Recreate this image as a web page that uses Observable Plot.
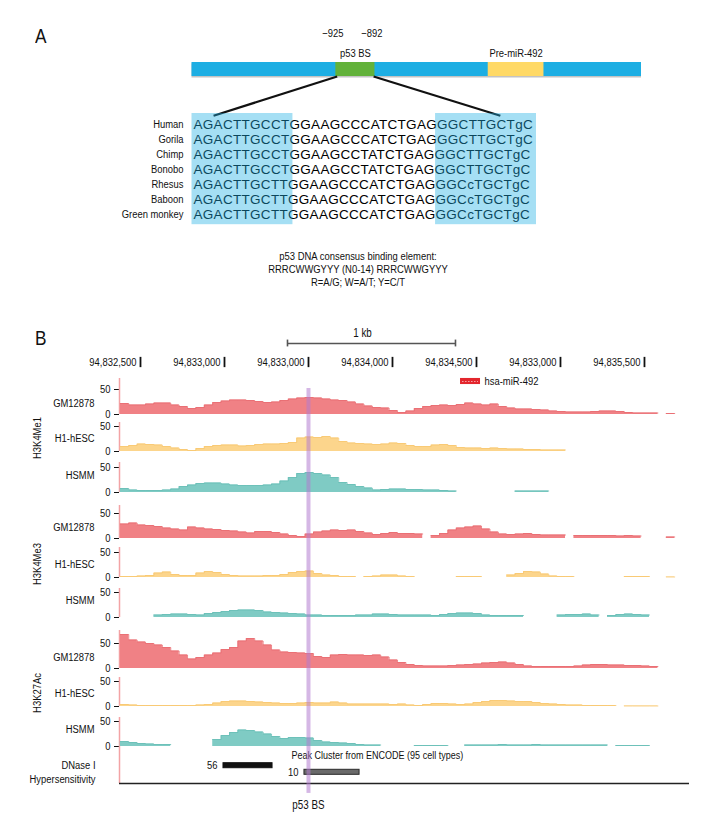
<!DOCTYPE html>
<html><head><meta charset="utf-8">
<script src="https://cdn.jsdelivr.net/npm/d3@7"></script>
<script src="https://cdn.jsdelivr.net/npm/@observablehq/plot@0.6"></script>
<style>
body{margin:0;background:#fff;}
#fig{position:relative;width:720px;height:840px;overflow:hidden;background:#fff;
 font-family:"Liberation Sans",Arial,sans-serif;color:#111;}
.lbl{position:absolute;white-space:nowrap;line-height:1;transform:scaleX(0.82);}
</style></head><body><div id="fig"></div>
<script>
// ---------------- DATA ----------------
// Panel A: promoter schematic (schematic units 0-100)
const geneParts = ["promoter", "p53 BS", "Pre-miR-492"];
const partStart = [0, 32.0, 65.9];
const partEnd = [100, 40.7, 78.3];
const bsCoordLabels = ["\u2212925", "\u2212892"];
// Panel A: alignment
const species = ["Human", "Gorila", "Chimp", "Bonobo", "Rhesus", "Baboon", "Green monkey"];
const sequences = [
  "AGACTTGCCTGGAAGCCCATCTGAGGGCTTGCTgC",
  "AGACTTGCCTGGAAGCCCATCTGAGGGCTTGCTgC",
  "AGACTTGCCTGGAAGCCTATCTGAGGGCTTGCTgC",
  "AGACTTGCCTGGAAGCCTATCTGAGGGCTTGCTgC",
  "AGACTTGCTTGGAAGCCCATCTGAGGGCcTGCTgC",
  "AGACTTGCTTGGAAGCCCATCTGAGGGCcTGCTgC",
  "AGACTTGCTTGGAAGCCCATCTGAGGGCcTGCTgC"
];
const halfSiteFrom = [0, 25];
const halfSiteTo = [10, 35];
const consensusLines = ["p53 DNA consensus binding element:", "RRRCWWGYYY (N0-14) RRRCWWGYYY", "R=A/G; W=A/T; Y=C/T"];

// Panel B: genome browser
const coordPositions = [94832500, 94833000, 94833500, 94834000, 94834500, 94835000, 94835500];
const coordLabels = ["94,832,500", "94,833,000", "94,833,000", "94,834,000", "94,834,500", "94,833,000", "94,835,500"];
const scaleBar = {start: 94833375, end: 94834375, label: "1 kb"};
const mirna = {name: "hsa-miR-492", start: 94834405, end: 94834524};
const p53Site = 94833500;
const binStart = 94832380, binSize = 50;

const h3k4me1_GM12878 = [22,19,19,21,23,23,19,16,12,14,19,24,27,29,29,28,26,24,25,28,31,33,34,33,31,29,28,25,21,17,14,13,8,4,7,12,16,18,19,18,20,23,21,19,21,16,13,11,11,10,9,7,6,5,5,5,6,7,7,6,4,3,3,3,null,2];
const h3k4me1_H1 = [10,12,15,14,13,10,7,4,2,6,10,12,13,13,11,12,14,15,15,16,18,27,29,28,30,27,20,17,16,15,14,15,17,16,12,10,10,13,14,12,8,7,7,6,7,6,5,5,4,4,3,3,3,null,null,null,null,null,null,null,null,null,null,null,null,null];
const h3k4me1_HSMM = [8,5,4,4,4,5,7,12,15,18,19,19,17,15,14,14,14,15,17,23,30,38,40,38,35,30,20,16,12,9,5,6,7,7,6,6,5,5,4,3,null,null,null,null,null,null,null,3,3,3,3,null,null,null,null,null,null,null,null,null,null,null,null,null,null,null];
const h3k4me3_GM12878 = [29,31,27,26,24,21,19,17,23,21,19,18,16,15,13,11,14,14,12,9,6,4,9,13,15,17,16,17,14,11,8,10,12,10,10,9,null,6,10,17,21,23,25,19,13,9,8,9,10,8,7,7,7,null,6,6,6,6,6,5,6,5,null,null,null,3];
const h3k4me3_H1 = [2,2,3,4,9,11,6,4,4,9,12,10,6,4,3,3,3,4,4,6,10,12,13,8,5,4,2,2,null,2,3,5,5,3,2,null,null,null,null,null,2,2,2,null,null,null,5,8,12,11,7,3,2,2,null,null,null,null,null,null,2,2,2,null,null,1];
const h3k4me3_HSMM = [null,null,null,null,5,6,7,7,6,5,8,10,12,14,15,15,14,11,10,9,8,7,5,5,4,4,4,4,5,5,7,7,6,5,5,5,5,4,6,8,9,9,8,5,4,4,4,4,null,null,null,null,5,6,6,7,5,null,4,6,7,6,5,null,null,null];
const h3k27ac_GM12878 = [68,57,53,50,47,42,35,27,19,22,27,31,38,42,55,60,55,47,37,33,32,31,30,24,22,27,28,27,27,26,27,23,17,12,8,6,5,5,5,6,7,8,9,11,12,13,11,8,5,4,4,4,4,4,5,7,8,8,7,7,6,6,5,4,null,null];
const h3k27ac_H1 = [4,3,2,2,2,2,2,2,2,3,4,7,10,11,11,10,9,8,7,6,6,7,8,7,7,9,7,5,5,5,5,5,4,5,3,2,4,6,6,5,4,5,8,10,12,12,11,10,10,8,6,5,4,3,3,2,2,2,2,null,1,1,1,1,null,null];
const h3k27ac_HSMM = [10,8,6,5,4,4,null,null,null,null,null,14,22,28,33,32,29,25,20,16,18,18,17,12,9,8,7,6,4,3,3,null,null,null,null,2,2,2,2,null,null,3,3,3,3,4,3,3,3,4,3,3,3,3,3,3,3,3,null,2,2,2,2,null,null,null];

const trackGroups = ["H3K4Me1","H3K4Me1","H3K4Me1","H3K4Me3","H3K4Me3","H3K4Me3","H3K27Ac","H3K27Ac","H3K27Ac"];
const trackCells = ["GM12878","H1-hESC","HSMM","GM12878","H1-hESC","HSMM","GM12878","H1-hESC","HSMM"];
const trackValues = [h3k4me1_GM12878, h3k4me1_H1, h3k4me1_HSMM, h3k4me3_GM12878, h3k4me3_H1, h3k4me3_HSMM, h3k27ac_GM12878, h3k27ac_H1, h3k27ac_HSMM];

const dnaseScores = [56, 10];
const dnaseStart = [94832994, 94833476];
const dnaseEnd = [94833286, 94833804];
const dnaseLane = [0, 1];

// ---------------- STYLE / LAYOUT ----------------
const FONT = '"Liberation Sans",Arial,sans-serif';
const NARROW = 0.82;
const partColors = ["#1DAEE3", "#62B23A", "#FFD966"];
const cellFill = {"GM12878": "#F08185", "H1-hESC": "#FCD58C", "HSMM": "#7FCBC4"};
const cellStroke = {"GM12878": "#E96C71", "H1-hESC": "#F7C670", "HSMM": "#68BEB6"};
const nameY = {"GM12878": 23, "H1-hESC": 27, "HSMM": 35};
const trackBaselines = [414, 451, 492, 538, 577, 617, 668, 706, 746];
const firstTrackTop = 378;
const axisTops = [72, 58, 60, 66, 60, 58, 76, 58, 58];
const PX_PER_UNIT = 0.5;
const xDomain = [94832375, 94835768];
const baseStyle = {background: "transparent", overflow: "visible", fontFamily: FONT, fontSize: "11px", color: "#111"};

const fig = document.getElementById("fig");
// condensed look: squeeze every label horizontally around its own anchor
function narrow(svg) {
  svg.querySelectorAll("text").forEach(t => {
    if (/^[ACGTacgt]{20,}$/.test(t.textContent)) { t.style.letterSpacing = "0.3px"; return; }
    const xa = t.getAttribute("x");
    let x = 0;
    if (xa != null && xa !== "" && !isNaN(+xa)) { x = +xa; t.removeAttribute("x"); }
    const tr = t.getAttribute("transform") || "";
    t.setAttribute("transform", `${tr} translate(${x},0) scale(${NARROW},1)`);
  });
}
function place(el, top) {
  narrow(el);
  el.style.position = "absolute"; el.style.left = "0px"; el.style.top = top + "px";
  fig.appendChild(el);
}
function label(text, left, top, size, extra) {
  const d = document.createElement("div");
  d.className = "lbl"; d.textContent = text;
  d.style.left = left + "px"; d.style.top = top + "px"; d.style.fontSize = size + "px";
  if (extra) Object.assign(d.style, extra);
  fig.appendChild(d);
}

// ---------------- PANEL A ----------------
label("A", 35, 25, 21, {transformOrigin: "left center"});
const parts = geneParts.map((name, i) => ({name, start: partStart[i], end: partEnd[i], color: partColors[i]}));
const bsCoords = [{pos: partStart[1], label: bsCoordLabels[0]}, {pos: partEnd[1], label: bsCoordLabels[1]}];
const alignTopY = -2.8;
const zoomLinks = [
  {x1: partStart[1] + 0.3, y1: 0, x2: 4.8, y2: alignTopY},
  {x1: partEnd[1] - 0.3, y1: 0, x2: 68.6, y2: alignTopY}
];
place(Plot.plot({
  width: 720, height: 120, marginLeft: 191.5, marginRight: 79, marginTop: 62, marginBottom: 44,
  x: {domain: [0, 100], axis: null},
  y: {domain: [0, 1], axis: null},
  color: {type: "identity"},
  style: baseStyle,
  marks: [
    Plot.rect([parts[0]], {x1: "start", x2: "end", y1: () => 0, y2: () => 1, fill: "#7a7a7a", fillOpacity: 0.45, dy: 1.5}),
    Plot.rect(parts, {x1: "start", x2: "end", y1: () => 0, y2: () => 1, fill: "color"}),
    Plot.link(zoomLinks, {x1: "x1", y1: "y1", x2: "x2", y2: "y2", stroke: "#111", strokeWidth: 2.2}),
    Plot.text(parts.slice(1), {x: d => (d.start + d.end) / 2, y: () => 1, text: "name", dy: -9, fontSize: 11.5}),
    Plot.text(bsCoords, {x: "pos", y: () => 1, text: "label", dy: -29, dx: -3, fontSize: 11.5})
  ]
}), 0);

const alignRows = species.map((s, i) => ({species: s, seq: sequences[i]}));
const halfSites = halfSiteFrom.map((f, i) => ({from: f, to: halfSiteTo[i]}));
place(Plot.plot({
  width: 720, height: 130, marginLeft: 193, marginRight: 186, marginTop: 22, marginBottom: 13.8,
  x: {domain: [0, 35], axis: null},
  y: {type: "point", domain: species, padding: 0, axis: null},
  style: baseStyle,
  marks: [
    Plot.text(alignRows, {x: () => 0, y: "species", text: "seq", textAnchor: "start", fontFamily: FONT, fontSize: 13.5, fill: "#000"}),
    Plot.text(alignRows, {x: () => 0, y: "species", text: "species", textAnchor: "end", dx: -10, fontSize: 11.5}),
    Plot.rect(halfSites, {x1: "from", x2: "to", fill: "#1DAEE3", fillOpacity: 0.4, insetTop: -9, insetBottom: -8, insetLeft: -1.5, insetRight: -2})
  ]
}), 100);

consensusLines.forEach((t, i) => label(t, 0, 251 + i * 13, 11.5, {width: "716px", textAlign: "center", transformOrigin: "358px center"}));

// ---------------- PANEL B ----------------
label("B", 35, 327, 21, {transformOrigin: "left center"});

place(Plot.plot({
  width: 720, height: 80, marginLeft: 119, marginRight: 31, marginTop: 23, marginBottom: 19,
  x: {domain: xDomain, axis: null},
  y: {domain: [0, 2], reverse: true, axis: null},
  style: baseStyle,
  marks: [
    Plot.ruleY([scaleBar], {x1: "start", x2: "end", y: () => 0, stroke: "#555", strokeWidth: 1.6}),
    Plot.ruleX([scaleBar.start, scaleBar.end], {x: d => d, y1: () => -0.18, y2: () => 0.18, stroke: "#555", strokeWidth: 1.6}),
    Plot.text([scaleBar], {x: d => (d.start + d.end) / 2, y: () => 0, text: "label", dy: -10, dx: -9, fontSize: 12}),
    Plot.ruleX(coordPositions, {x: d => d, y1: () => 0.73, y2: () => 1.27, stroke: "#111", strokeWidth: 1.8}),
    Plot.text(coordPositions, {x: d => d, y: () => 1, text: (d, i) => coordLabels[i], textAnchor: "end", dx: -4, fontSize: 11.5}),
    Plot.rect([mirna], {x1: "start", x2: "end", y1: () => 1.84, y2: () => 2.16, fill: "#E3262D"}),
    Plot.ruleY([mirna], {x1: d => d.start + 12, x2: d => d.end - 12, y: () => 2, stroke: "#F5A3A6", strokeWidth: 1, strokeDasharray: "1.5,1.5"}),
    Plot.text([mirna], {x: "end", y: () => 2, text: "name", textAnchor: "start", dx: 4, fontSize: 11.5})
  ]
}), 320);

function stepPoints(values) {
  const pts = [];
  values.forEach((v, i) => {
    const x0 = binStart + i * binSize;
    if (v == null) { pts.push({x: x0, y: null}); return; }
    pts.push({x: x0, y: v}, {x: x0 + binSize, y: v});
  });
  return pts;
}

trackValues.forEach((values, i) => {
  const top = i === 0 ? firstTrackTop : trackBaselines[i - 1];
  const h = trackBaselines[i] - top;
  const ymax = h / PX_PER_UNIT;
  const cell = trackCells[i];
  const pts = stepPoints(values);
  const marks = [
    Plot.ruleX([xDomain[0]], {x: d => d, y1: () => 0, y2: () => axisTops[i], stroke: "#F3A3A5", strokeWidth: 1.5}),
    Plot.area(pts, {x1: "x", y1: () => 0, y2: "y", fill: cellFill[cell]}),
    Plot.line(pts, {x: "x", y: "y", stroke: cellStroke[cell], strokeWidth: 0.8}),
    Plot.ruleX([p53Site], {x: d => d, y1: () => 0, y2: () => (i === 0 ? 52 : ymax), stroke: "#B27CD0", strokeOpacity: 0.55, strokeWidth: 4}),
    Plot.text([cell], {frameAnchor: "left", y: () => nameY[cell], text: d => d, dx: -25, textAnchor: "end", fontSize: 11.5})
  ];
  if (cell === "H1-hESC") {
    marks.push(Plot.text([trackGroups[i]], {frameAnchor: "left", y: () => 27, text: d => d, dx: -82, rotate: -90, textAnchor: "middle", fontSize: 11.5}));
  }
  place(Plot.plot({
    width: 720, height: h, marginLeft: 119, marginRight: 31, marginTop: 0, marginBottom: 0,
    x: {domain: xDomain, axis: null},
    y: {domain: [0, ymax], ticks: [0, 50], tickSize: 5, tickPadding: 4, label: null},
    style: {...baseStyle, fontSize: "11.5px"},
    marks
  }), top);
});

// DNase track
const dnase = dnaseScores.map((s, i) => ({score: s, start: dnaseStart[i], end: dnaseEnd[i], lane: dnaseLane[i]}));
const axisLane = 2.7;
place(Plot.plot({
  width: 720, height: 70, marginLeft: 119, marginRight: 31, marginTop: 0, marginBottom: 0,
  x: {domain: xDomain, axis: null},
  y: {domain: [0, 1], range: [19.2, 25.8], axis: null},
  style: baseStyle,
  marks: [
    Plot.ruleX([xDomain[0]], {x: d => d, y1: () => -2.91, y2: () => axisLane, stroke: "#F3A3A5", strokeWidth: 1.5}),
    Plot.ruleY([axisLane], {y: d => d, stroke: "#222", strokeWidth: 1.5}),
    Plot.rect(dnase, {x1: "start", x2: "end", y1: d => d.lane - 0.38, y2: d => d.lane + 0.38,
      fill: d => d.score > 30 ? "#111" : "#6a6a6a", stroke: d => d.score > 30 ? "#111" : "#2a2a2a", strokeWidth: 1}),
    Plot.text(dnase, {x: "start", y: "lane", text: "score", textAnchor: "end", dx: -6, fontSize: 11.5}),
    Plot.text([dnase[1]], {x: "start", y: () => -1.55, text: () => "Peak Cluster from ENCODE (95 cell types)", textAnchor: "start", dx: -13, fontSize: 11}),
    Plot.text(["DNase I", "Hypersensitivity"], {frameAnchor: "left", y: (d, i) => i * 2, text: d => d, textAnchor: "end", dx: -24, fontSize: 11.5}),
    Plot.ruleX([p53Site], {x: d => d, y1: () => -2.91, y2: () => 4.2, stroke: "#B27CD0", strokeOpacity: 0.55, strokeWidth: 4}),
    Plot.text([p53Site], {x: d => d, y: () => 6, text: () => "p53 BS", fontSize: 12})
  ]
}), 746);
</script></body></html>
